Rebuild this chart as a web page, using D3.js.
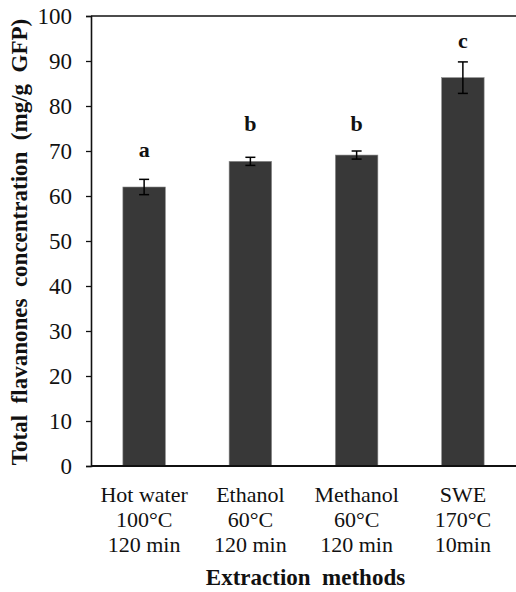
<!DOCTYPE html>
<html lang="en">
<head>
  <meta charset="utf-8">
  <title>Total flavanones by extraction method</title>
  <style>
    body { margin: 0; background: #fff; }
    svg text { font-family: "Liberation Serif", "Times New Roman", serif; fill: #111; }
  </style>
</head>
<body>
  <div id="graphic"></div>

  <script src="https://cdn.jsdelivr.net/npm/d3@7/dist/d3.min.js"></script>
  <script>
    // chart data
    var methods = ["Hot water", "Ethanol", "Methanol", "SWE"];
    var temps = ["100\u00B0C", "60\u00B0C", "60\u00B0C", "170\u00B0C"];
    var times = ["120 min", "120 min", "120 min", "10min"];
    var means = [62.0, 67.7, 69.1, 86.3];
    var errors = [1.7, 0.9, 0.9, 3.5];
    var letters = ["a", "b", "b", "c"];
    var letterHeights = [68.7, 74.4, 74.4, 92.9];
    var yTicks = [0, 10, 20, 30, 40, 50, 60, 70, 80, 90, 100];

    var width = 516, height = 592;
    var margin = {top: 16, right: 0, bottom: 126, left: 91};

    var svg = d3.select('#graphic').append('svg')
      .attr('width', width)
      .attr('height', height);

    var x = d3.scaleBand()
      .domain(methods)
      .range([margin.left, width - margin.right])
      .paddingInner(0.6)
      .paddingOuter(0.3);

    var y = d3.scaleLinear()
      .domain([0, 100])
      .range([height - margin.bottom, margin.top]);

    var data = methods.map(function(m, i) {
      return {method: m, temp: temps[i], time: times[i], mean: means[i], err: errors[i], letter: letters[i], ly: letterHeights[i]};
    });

    // bars
    svg.selectAll('rect.bar')
      .data(data)
      .enter().append('rect')
      .attr('class', 'bar')
      .attr('x', function(d) { return x(d.method); })
      .attr('y', function(d) { return y(d.mean); })
      .attr('width', x.bandwidth())
      .attr('height', function(d) { return y(0) - y(d.mean); })
      .attr('fill', '#383838')
      .attr('stroke', '#8a8a8a')
      .attr('stroke-width', 0.6);

    // error bars
    var eb = svg.selectAll('g.err')
      .data(data)
      .enter().append('g')
      .attr('class', 'err')
      .attr('stroke', '#000')
      .attr('stroke-width', 1.5);

    var cx = function(d) { return x(d.method) + x.bandwidth() / 2; };
    eb.append('line')
      .attr('x1', cx).attr('x2', cx)
      .attr('y1', function(d) { return y(d.mean + d.err); })
      .attr('y2', function(d) { return y(d.mean - d.err); });
    eb.append('line')
      .attr('x1', function(d) { return cx(d) - 5; })
      .attr('x2', function(d) { return cx(d) + 5; })
      .attr('y1', function(d) { return y(d.mean + d.err); })
      .attr('y2', function(d) { return y(d.mean + d.err); });
    eb.append('line')
      .attr('x1', function(d) { return cx(d) - 5; })
      .attr('x2', function(d) { return cx(d) + 5; })
      .attr('y1', function(d) { return y(d.mean - d.err); })
      .attr('y2', function(d) { return y(d.mean - d.err); });

    // significance letters
    svg.selectAll('text.letter')
      .data(data)
      .enter().append('text')
      .attr('class', 'letter')
      .attr('x', cx)
      .attr('y', function(d) { return y(d.ly); })
      .attr('text-anchor', 'middle')
      .attr('font-size', 22)
      .attr('font-weight', 'bold')
      .text(function(d) { return d.letter; });

    // y axis
    var yAxis = svg.append('g')
      .attr('transform', 'translate(' + margin.left + ',0)')
      .call(d3.axisLeft(y).tickValues(yTicks).tickSize(5).tickPadding(14));
    yAxis.select('.domain').attr('stroke', '#111').attr('stroke-width', 1.6);
    yAxis.selectAll('.tick line').attr('stroke', '#111').attr('stroke-width', 1.3);
    yAxis.selectAll('.tick text')
      .attr('font-size', 23)
      .attr('fill', '#111');

    // top and bottom frame lines
    svg.append('line')
      .attr('x1', margin.left).attr('x2', width)
      .attr('y1', y(100)).attr('y2', y(100))
      .attr('stroke', '#111').attr('stroke-width', 1.6);
    svg.append('line')
      .attr('x1', margin.left).attr('x2', width)
      .attr('y1', y(0)).attr('y2', y(0))
      .attr('stroke', '#111').attr('stroke-width', 1.8);

    // category labels, three lines each
    var lab = svg.selectAll('text.cat')
      .data(data)
      .enter().append('text')
      .attr('class', 'cat')
      .attr('text-anchor', 'middle')
      .attr('font-size', 22);
    lab.append('tspan').attr('x', cx).attr('y', 502).text(function(d) { return d.method; });
    lab.append('tspan').attr('x', cx).attr('y', 527).text(function(d) { return d.temp; });
    lab.append('tspan').attr('x', cx).attr('y', 552).text(function(d) { return d.time; });

    // axis titles
    svg.append('text')
      .attr('x', (margin.left + width) / 2 + 2)
      .attr('y', 585)
      .attr('text-anchor', 'middle')
      .attr('font-size', 23)
      .attr('font-weight', 'bold')
      .attr('xml:space', 'preserve')
      .text('Extraction  methods');

    svg.append('text')
      .attr('transform', 'translate(27,' + ((margin.top + y(0)) / 2 + 1) + ') rotate(-90)')
      .attr('text-anchor', 'middle')
      .attr('font-size', 23)
      .attr('font-weight', 'bold')
      .attr('xml:space', 'preserve')
      .text('Total  flavanones  concentration  (mg/g  GFP)');
  </script>
</body>
</html>
